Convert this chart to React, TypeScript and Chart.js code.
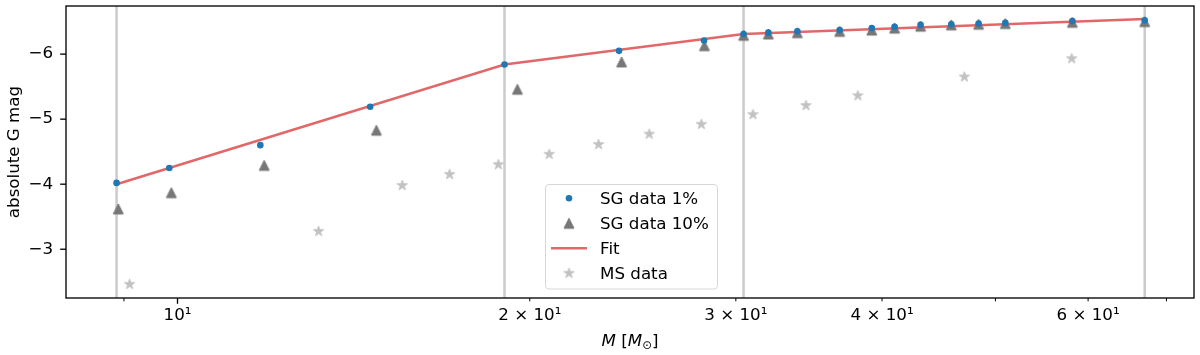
import React, { useEffect, useRef } from "react";
import { Chart, registerables } from "chart.js";

Chart.register(...registerables);

const FAMILY = "'DejaVu Sans', sans-serif";
const FS = 16.7;

// SG data 1% (mass in solar masses, absolute G magnitude)
const sgMass1 = [8.87, 9.84, 11.77, 14.61, 19.03, 23.84, 28.18, 30.46, 31.98, 33.86, 36.8, 39.2, 41.0, 43.15, 45.84, 48.37, 50.98, 58.17, 67.07];
const sgMag1 = [-4.02, -4.25, -4.6, -5.19, -5.84, -6.05, -6.21, -6.31, -6.33, -6.35, -6.37, -6.4, -6.42, -6.45, -6.46, -6.47, -6.48, -6.51, -6.52];
// SG data 10%
const sgMass10 = [8.9, 9.88, 11.86, 14.79, 19.52, 23.96, 28.2, 30.46, 31.98, 33.86, 36.8, 39.2, 41.0, 43.15, 45.84, 48.37, 50.98, 58.17, 67.07];
const sgMag10 = [-3.62, -3.87, -4.29, -4.83, -5.46, -5.88, -6.13, -6.29, -6.31, -6.33, -6.35, -6.37, -6.4, -6.43, -6.45, -6.46, -6.47, -6.49, -6.5];
// Fit (piecewise)
const fitMass = [8.87, 19.03, 30.46, 67.07];
const fitMag = [-4.0, -5.84, -6.31, -6.54];
// MS data
const msMass = [9.1, 13.2, 15.56, 17.08, 18.8, 20.78, 22.9, 25.3, 28.03, 31.03, 34.44, 38.14, 47.03, 58.1];
const msMag = [-2.46, -3.275, -3.98, -4.15, -4.3, -4.46, -4.61, -4.77, -4.92, -5.07, -5.21, -5.36, -5.65, -5.93];
// vertical break lines
const breakMass = [8.87, 19.03, 30.46, 67.07];

const xTickValues = [9, 10, 20, 30, 40, 50, 60, 70];
const xTickTexts = ["", "10¹", "2 × 10¹", "3 × 10¹", "4 × 10¹", "", "6 × 10¹", ""];
const xMajorTicks = [10];
const yTickValues = [-6, -5, -4, -3];
const legendLabels = ["SG data 1%", "SG data 10%", "Fit", "MS data"];

const BLUE = "#1f77b4";
const GRAY = "#777777";
const LIGHT = "#c2c2c2";
const RED = "rgba(214,39,40,0.7)";
const VLINE = "#cbcbcb";

function makeTriangle(h: number, color: string) {
  const s = Math.ceil(2 * h + 4);
  const c = document.createElement("canvas");
  c.width = s;
  c.height = s;
  const ctx = c.getContext("2d")!;
  const m = s / 2;
  ctx.beginPath();
  ctx.moveTo(m, m - h);
  ctx.lineTo(m - h, m + h);
  ctx.lineTo(m + h, m + h);
  ctx.closePath();
  ctx.fillStyle = color;
  ctx.fill();
  ctx.lineWidth = 1;
  ctx.strokeStyle = color;
  ctx.lineJoin = "miter";
  ctx.stroke();
  return c;
}

function makeStar(R: number, color: string) {
  const s = Math.ceil(2 * R + 4);
  const c = document.createElement("canvas");
  c.width = s;
  c.height = s;
  const ctx = c.getContext("2d")!;
  const m = s / 2;
  const r = R * 0.381966;
  ctx.beginPath();
  for (let i = 0; i < 10; i++) {
    const rr = i % 2 === 0 ? R : r;
    const a = -Math.PI / 2 + (i * Math.PI) / 5;
    const px = m + rr * Math.cos(a);
    const py = m + rr * Math.sin(a);
    if (i === 0) ctx.moveTo(px, py);
    else ctx.lineTo(px, py);
  }
  ctx.closePath();
  ctx.fillStyle = color;
  ctx.fill();
  ctx.lineWidth = 1;
  ctx.strokeStyle = color;
  ctx.lineJoin = "round";
  ctx.stroke();
  return c;
}

const fmtY = (v: number) => (v < 0 ? "\u2212" : "") + Math.abs(v);

export default function App() {
  const ref = useRef<HTMLCanvasElement>(null);

  useEffect(() => {
    const canvas = ref.current!;
    const tri = makeTriangle(5, GRAY);
    const star = makeStar(5.4, LIGHT);

    const decor = {
      id: "decor",
      beforeDatasetsDraw(chart: any) {
        const { ctx, chartArea: a, scales } = chart;
        ctx.save();
        ctx.strokeStyle = VLINE;
        ctx.lineWidth = 2.5;
        breakMass.forEach((m) => {
          const x = scales.x.getPixelForValue(m);
          ctx.beginPath();
          ctx.moveTo(x, a.top);
          ctx.lineTo(x, a.bottom);
          ctx.stroke();
        });
        ctx.restore();
      },
      afterDraw(chart: any) {
        const { ctx, chartArea: a, scales } = chart;
        ctx.save();
        // frame
        ctx.strokeStyle = "#000";
        ctx.lineWidth = 1.33;
        ctx.strokeRect(a.left, a.top, a.right - a.left, a.bottom - a.top);
        // x ticks
        xTickValues.forEach((v) => {
          const x = scales.x.getPixelForValue(v);
          const len = xMajorTicks.includes(v) ? 5.8 : 3.3;
          ctx.lineWidth = xMajorTicks.includes(v) ? 1.33 : 1.0;
          ctx.beginPath();
          ctx.moveTo(x, a.bottom);
          ctx.lineTo(x, a.bottom + len);
          ctx.stroke();
        });
        // y ticks
        ctx.lineWidth = 1.33;
        yTickValues.forEach((v) => {
          const y = scales.y.getPixelForValue(v);
          ctx.beginPath();
          ctx.moveTo(a.left, y);
          ctx.lineTo(a.left - 5.8, y);
          ctx.stroke();
        });

        // x axis title: M [M_sun]
        const base = 346;
        const parts: [string, string, number][] = [
          ["M", `italic ${FS}px ${FAMILY}`, 0],
          [" [", `${FS}px ${FAMILY}`, 0],
          ["M", `italic ${FS}px ${FAMILY}`, 0],
          ["\u2299", `${FS * 0.7}px ${FAMILY}`, 3],
          ["]", `${FS}px ${FAMILY}`, 0],
        ];
        let total = 0;
        const widths = parts.map(([t, f]) => {
          ctx.font = f;
          const w = ctx.measureText(t).width;
          total += w;
          return w;
        });
        let cx = (a.left + a.right) / 2 - total / 2;
        ctx.fillStyle = "#000";
        ctx.textBaseline = "alphabetic";
        ctx.textAlign = "left";
        parts.forEach(([t, f, dy], i) => {
          ctx.font = f;
          ctx.fillText(t, cx, base + dy);
          cx += widths[i];
        });

        // legend
        const lx = 545.5, ly = 184.5, lw = 172, lh = 104.5, rad = 3.3;
        ctx.beginPath();
        ctx.moveTo(lx + rad, ly);
        ctx.lineTo(lx + lw - rad, ly);
        ctx.arcTo(lx + lw, ly, lx + lw, ly + rad, rad);
        ctx.lineTo(lx + lw, ly + lh - rad);
        ctx.arcTo(lx + lw, ly + lh, lx + lw - rad, ly + lh, rad);
        ctx.lineTo(lx + rad, ly + lh);
        ctx.arcTo(lx, ly + lh, lx, ly + lh - rad, rad);
        ctx.lineTo(lx, ly + rad);
        ctx.arcTo(lx, ly, lx + rad, ly, rad);
        ctx.closePath();
        ctx.fillStyle = "rgba(255,255,255,0.8)";
        ctx.fill();
        ctx.strokeStyle = "#d6d6d6";
        ctx.lineWidth = 1;
        ctx.stroke();

        const mx = 569;
        const rowsY = [198.3, 223.3, 248.3, 273.3];
        // markers
        ctx.fillStyle = BLUE;
        ctx.beginPath();
        ctx.arc(mx, rowsY[0], 3.3, 0, Math.PI * 2);
        ctx.fill();
        ctx.drawImage(tri, mx - tri.width / 2, rowsY[1] - tri.height / 2);
        ctx.strokeStyle = RED;
        ctx.lineWidth = 2.5;
        ctx.beginPath();
        ctx.moveTo(551, rowsY[2]);
        ctx.lineTo(587, rowsY[2]);
        ctx.stroke();
        ctx.drawImage(star, mx - star.width / 2, rowsY[3] - star.height / 2);
        ctx.fillStyle = "#000";
        ctx.font = `${FS}px ${FAMILY}`;
        legendLabels.forEach((t, i) => {
          ctx.fillText(t, 600, rowsY[i] + 6);
        });
        ctx.restore();
      },
    };

    const toPts = (xs: number[], ys: number[]) => xs.map((x, i) => ({ x, y: ys[i] }));

    const chart = new Chart(canvas, {
      type: "scatter",
      data: {
        datasets: [
          {
            label: legendLabels[0],
            data: toPts(sgMass1, sgMag1),
            pointStyle: "circle",
            pointRadius: 3.3,
            pointBorderWidth: 0,
            backgroundColor: BLUE,
            borderColor: BLUE,
            order: 0,
          },
          {
            label: legendLabels[1],
            data: toPts(sgMass10, sgMag10),
            pointStyle: tri as any,
            pointRadius: 5,
            order: 1,
          },
          {
            label: legendLabels[2],
            data: toPts(fitMass, fitMag),
            showLine: true,
            pointRadius: 0,
            borderColor: RED,
            borderWidth: 2.5,
            fill: false,
            order: 2,
          } as any,
          {
            label: legendLabels[3],
            data: toPts(msMass, msMag),
            pointStyle: star as any,
            pointRadius: 5,
            order: 3,
          },
        ],
      },
      options: {
        responsive: false,
        animation: false,
        devicePixelRatio: 1,
        layout: { padding: { left: 0, top: 4, right: 4, bottom: 0 } },
        plugins: { legend: { display: false }, tooltip: { enabled: false } },
        events: [],
        scales: {
          x: {
            type: "logarithmic",
            min: 8.03,
            max: 73.9,
            afterBuildTicks: (s: any) => {
              s.ticks = xTickValues.map((v) => ({ value: v }));
            },
            afterFit: (s: any) => {
              s.height = 57;
              s.paddingLeft = 0;
              s.paddingRight = 0;
              s.paddingTop = 0;
              s.paddingBottom = 0;
            },
            ticks: {
              autoSkip: false,
              maxRotation: 0,
              minRotation: 0,
              padding: 8,
              color: "#000",
              font: { family: FAMILY, size: FS },
              callback: (v: any) => {
                const i = xTickValues.indexOf(Number(v));
                return i >= 0 ? xTickTexts[i] : "";
              },
            },
            grid: { display: false, drawTicks: false },
            border: { display: false },
          },
          y: {
            type: "linear",
            reverse: true,
            min: -6.74,
            max: -2.25,
            afterBuildTicks: (s: any) => {
              s.ticks = yTickValues.map((v) => ({ value: v }));
            },
            afterFit: (s: any) => {
              s.width = 66;
              s.paddingLeft = 0;
              s.paddingRight = 0;
              s.paddingTop = 0;
              s.paddingBottom = 0;
            },
            ticks: {
              padding: 13,
              color: "#000",
              font: { family: FAMILY, size: FS },
              callback: (v: any) => fmtY(Number(v)),
            },
            grid: { display: false, drawTicks: false },
            border: { display: false },
            title: {
              display: true,
              text: "absolute G mag",
              color: "#000",
              font: { family: FAMILY, size: FS },
              padding: { top: 5, bottom: 0 },
            },
          },
        },
      },
      plugins: [decor],
    } as any);

    return () => chart.destroy();
  }, []);

  return (
    <div style={{ position: "fixed", left: 0, top: 0, width: 1200, height: 355, background: "#fff" }}>
      <canvas ref={ref} width={1200} height={355} style={{ display: "block", width: 1200, height: 355 }} />
    </div>
  );
}
